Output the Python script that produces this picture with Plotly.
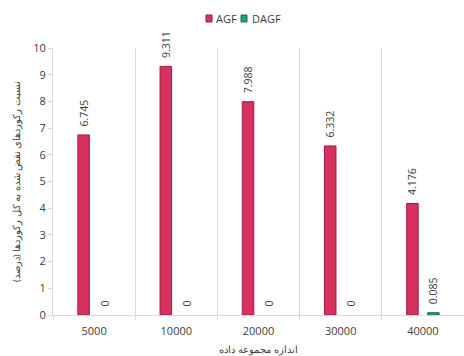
import plotly.graph_objects as go

categories = ["5000", "10000", "20000", "30000", "40000"]
agf = [6.745, 9.311, 7.988, 6.332, 4.176]
dagf = [0, 0, 0, 0, 0.085]
series_names = ["AGF", "DAGF"]
y_title = "نسبت رکوردهای نقض شده به کل رکوردها (درصد)"
x_title = "اندازه مجموعه داده"

font_family = "Open Sans, Noto Sans, sans-serif"
txt_color = "#404040"
fills = ["#D6315F", "#1FA37A"]
edges = ["#9E1C40", "#17694F"]

fig = go.Figure()
for name, vals, fc, ec in zip(series_names, [agf, dagf], fills, edges):
    fig.add_trace(go.Bar(
        name=name, x=categories, y=vals,
        # no outline on zero-height bars
        marker=dict(color=fc, line=dict(color=ec, width=[1 if v > 0 else 0 for v in vals])),
        # leading non-breaking spaces lift the rotated label off the bar top
        text=["\u00a0\u00a0" + f"{v:g}" for v in vals], textposition="outside",
        textangle=-90, constraintext="none",
        textfont=dict(size=10.5, color=txt_color, family=font_family),
        cliponaxis=False, showlegend=False,
    ))

# legend drawn as small squares with labels above the plot
legend_items = [(0.3723, 0.3869, 0.3917), (0.4574, 0.4720, 0.4793)]
for (x0, x1, tx), name, fc, ec in zip(legend_items, series_names, fills, edges):
    fig.add_shape(type="rect", xref="paper", yref="paper", x0=x0, x1=x1,
                  y0=1.0974, y1=1.1236, fillcolor=fc, line=dict(color=ec, width=1))
    fig.add_annotation(text=name, xref="paper", yref="paper", x=tx, y=1.1105,
                       xanchor="left", yanchor="middle", showarrow=False,
                       font=dict(size=11, color=txt_color, family=font_family))

fig.update_layout(
    width=464, height=356,
    margin=dict(l=53, r=0, t=48, b=41),
    paper_bgcolor="white", plot_bgcolor="white",
    barmode="group", bargap=0.49, bargroupgap=0.45,
    font=dict(family=font_family, color=txt_color, size=11),
    xaxis=dict(
        type="category", tickson="boundaries", showgrid=True, gridcolor="#D9D9D9",
        gridwidth=1, ticks="outside", ticklen=4, tickcolor="#D9D9D9",
        showline=True, linecolor="#D9D9D9", ticklabelstandoff=6,
        tickfont=dict(size=11, color=txt_color),
        title=dict(text=x_title, font=dict(size=10, color=txt_color), standoff=10),
    ),
    yaxis=dict(
        range=[0, 10], dtick=1, showgrid=False, zeroline=False,
        showline=True, linecolor="#D9D9D9", ticks="outside", ticklen=4,
        tickcolor="#D9D9D9", tickfont=dict(size=11, color=txt_color),
        title=dict(text=y_title, font=dict(size=9.5, color=txt_color), standoff=10),
    ),
)

fig.write_html("out.html")
